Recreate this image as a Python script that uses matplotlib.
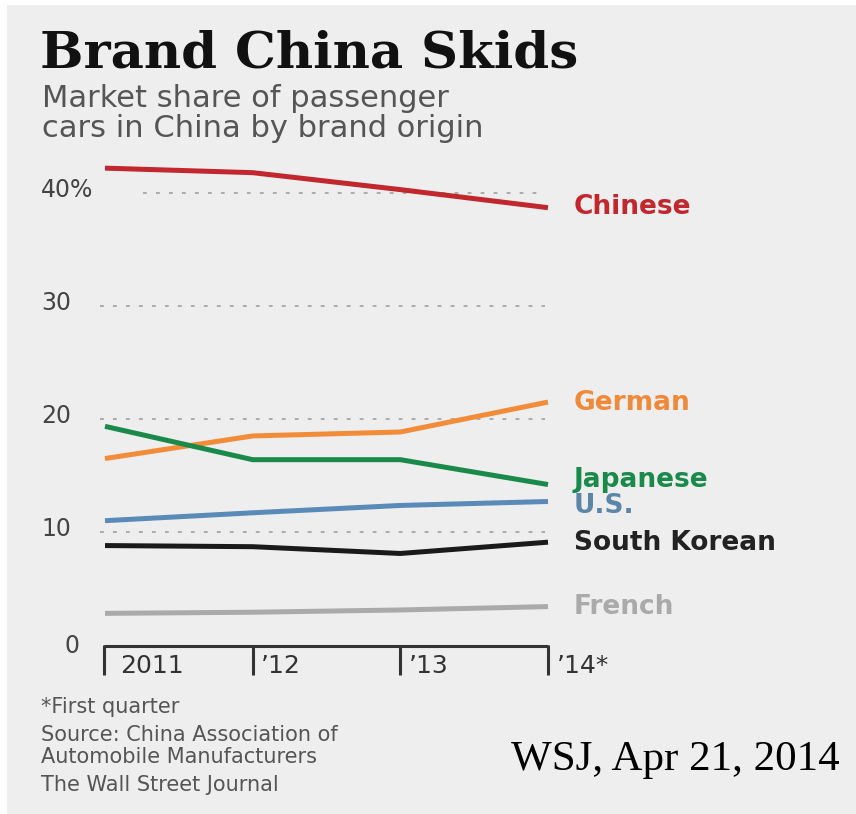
import matplotlib
matplotlib.use("Agg")
import matplotlib.pyplot as plt
from matplotlib.patches import Rectangle

# ---- data -------------------------------------------------------------
years = [0, 1, 2, 3]
year_labels = ["2011", "\u201912", "\u201913", "\u201914*"]
chinese = [42.2, 41.8, 40.3, 38.7]
german = [16.5, 18.5, 18.85, 21.5]
japanese = [19.35, 16.4, 16.4, 14.2]
us = [11.0, 11.7, 12.35, 12.7]
south_korean = [8.8, 8.7, 8.1, 9.1]
french = [2.8, 2.9, 3.1, 3.4]
y_ticks = [10, 20, 30, 40]
y_tick_labels = ["10", "20", "30", "40%"]

series = [
    ("Chinese", chinese, "#c1272d", "#c1272d", 207),
    ("German", german, "#f28c38", "#f08a3a", 403),
    ("Japanese", japanese, "#1a8a4a", "#1a8a4a", 480),
    ("U.S.", us, "#5a8ab8", "#5b86a8", 506),
    ("South Korean", south_korean, "#1a1a1a", "#222222", 543),
    ("French", french, "#aaaaaa", "#aaaaaa", 607),
]

W, H = 856, 814
fig = plt.figure(figsize=(W / 100, H / 100), dpi=100)
fig.patch.set_facecolor("white")
fig.patches.append(Rectangle((7 / W, 0), 1, 1 - 5 / H, transform=fig.transFigure,
                             facecolor="#eeeeee", edgecolor="none", zorder=-10))


def fx(px):
    return px / W


def fy(py):
    return 1 - py / H


# axes placed so that year 2011 -> x=105px, '14 -> 548px; 0 -> y=645px, 40 -> 193px
x0, x1 = 105, 548
y0_px, y40_px = 645, 193
per_unit = (y0_px - y40_px) / 40.0
ytop = 44
ax = fig.add_axes([fx(x0), fy(y0_px), (x1 - x0) / W, (ytop * per_unit) / H])
ax.set_xlim(0, 3)
ax.set_ylim(0, ytop)
ax.patch.set_alpha(0)
for s in ax.spines.values():
    s.set_visible(False)
ax.set_xticks([])
ax.set_yticks([])

px_per_x = (x1 - x0) / 3.0


def dx(px):
    return (px - x0) / px_per_x


def dy(py):
    return (y0_px - py) / per_unit


# dotted gridlines
grid_start = {10: 100, 20: 100, 30: 100, 40: 143}
for v, lab in zip(y_ticks, y_tick_labels):
    ax.plot([dx(grid_start[v]), dx(545)], [v, v], color="#9a9a9a", lw=1.1,
            linestyle=(0, (2.5, 6)), clip_on=False, zorder=1)
    ax.text(dx(41), v + 0.25, lab, ha="left", va="center", fontsize=17,
            color="#444444", family="DejaVu Sans", clip_on=False)
ax.text(dx(65), dy(646), "0", ha="left", va="center", fontsize=17,
        color="#444444", family="DejaVu Sans", clip_on=False)

# bracket-style x axis
ax.plot([dx(104), dx(548)], [dy(646), dy(646)], color="#333333", lw=2.2,
        clip_on=False, solid_capstyle="butt")
tick_px = [104, 253, 400, 548]
for tp in tick_px:
    ax.plot([dx(tp), dx(tp)], [dy(645), dy(675)], color="#333333", lw=2.2,
            clip_on=False, solid_capstyle="butt")
label_px = [120, 261, 409, 557]
for lp, lab in zip(label_px, year_labels):
    ax.text(dx(lp), dy(666), lab, ha="left", va="center", fontsize=18,
            color="#333333", family="DejaVu Sans", clip_on=False)

# series lines and end labels
for name, vals, lc, tc, ly in series:
    ax.plot(years, vals, color=lc, lw=3.6, clip_on=False, zorder=3,
            solid_capstyle="butt", solid_joinstyle="miter")
    ax.text(dx(574), dy(ly), name, ha="left", va="center", fontsize=19,
            fontweight="bold", color=tc, family="DejaVu Sans", clip_on=False)

# title block
fig.text(fx(40), fy(67), "Brand China Skids", ha="left", va="baseline",
         fontsize=37, fontweight="bold", family="DejaVu Serif", color="#111111")
fig.text(fx(42), fy(107), "Market share of passenger", ha="left", va="baseline",
         fontsize=22, family="DejaVu Sans", color="#555555")
fig.text(fx(42), fy(137), "cars in China by brand origin", ha="left", va="baseline",
         fontsize=22, family="DejaVu Sans", color="#555555")

# notes
fig.text(fx(41), fy(707), "*First quarter", ha="left", va="center",
         fontsize=15, family="DejaVu Sans", color="#555555")
fig.text(fx(41), fy(735), "Source: China Association of", ha="left", va="center",
         fontsize=15, family="DejaVu Sans", color="#555555")
fig.text(fx(41), fy(757), "Automobile Manufacturers", ha="left", va="center",
         fontsize=15, family="DejaVu Sans", color="#555555")
fig.text(fx(41), fy(785), "The Wall Street Journal", ha="left", va="center",
         fontsize=15, family="DejaVu Sans", color="#555555")

fig.text(fx(511), fy(770), "WSJ, Apr 21, 2014", ha="left", va="baseline",
         fontsize=31, family="Liberation Serif", color="black")

fig.savefig("out.png", dpi=100)
